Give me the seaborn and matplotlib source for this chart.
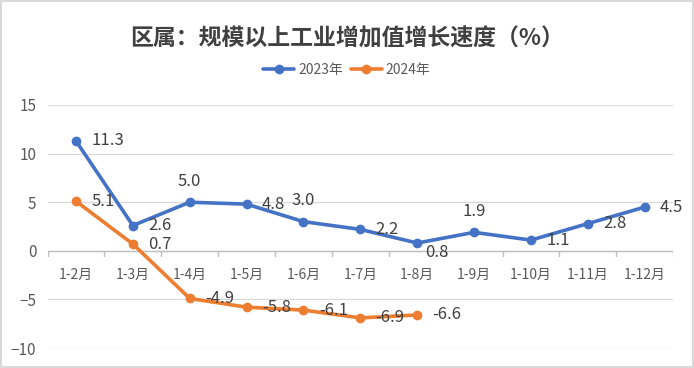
# line chart: 区属规模以上工业增加值增长速度
import pandas as pd
import seaborn as sns
import matplotlib.pyplot as plt

months = ["1-2月", "1-3月", "1-4月", "1-5月", "1-6月", "1-7月", "1-8月",
          "1-9月", "1-10月", "1-11月", "1-12月"]
y2023 = [11.3, 2.6, 5.0, 4.8, 3.0, 2.2, 0.8, 1.9, 1.1, 2.8, 4.5]
y2024 = [5.1, 0.7, -4.9, -5.8, -6.1, -6.9, -6.6]
series_names = ["2023年", "2024年"]

# where each data label sits relative to its point
pos2023 = ["r", "r", "a", "r", "a", "r", "br", "a", "r", "r", "r"]
pos2024 = ["r", "r", "r", "r", "r", "r", "r"]

rows = []
for i, v in enumerate(y2023):
    rows.append({"x": i, "val": v, "year": series_names[0]})
for i, v in enumerate(y2024):
    rows.append({"x": i, "val": v, "year": series_names[1]})
df = pd.DataFrame(rows)

sns.set_theme(style="white")
plt.rcParams["font.family"] = ["Noto Sans CJK SC", "DejaVu Sans"]

fig = plt.figure(figsize=(6.94, 3.68), dpi=100, edgecolor="#d9d9d9", linewidth=1.5)
ax = fig.add_axes([0.0685, 0.0543, 0.9015, 0.6604])

colors = {"2023年": "#4472C4", "2024年": "#ED7D31"}
sns.lineplot(data=df, x="x", y="val", hue="year", palette=colors, marker="o",
             markersize=7, markeredgewidth=0, linewidth=2.6, ax=ax, legend=False)

ax.set_xlim(-0.5, len(months) - 0.5)
ax.set_ylim(-10, 15)
ax.set_yticks([-10, -5, 0, 5, 10, 15])
ax.yaxis.grid(True, color="#d9d9d9", linewidth=0.9)
ax.set_axisbelow(True)
for s in ax.spines.values():
    s.set_visible(False)
ax.tick_params(axis="y", length=0, pad=8, labelsize=11, labelcolor="#595959")
ax.set_xticks([])
ax.set_xlabel("")
ax.set_ylabel("")

# zero line with category ticks and month labels
ax.axhline(0, color="#bfbfbf", linewidth=1, zorder=1)
for i in range(len(months) + 1):
    ax.plot([i - 0.5, i - 0.5], [0, -0.5], color="#bfbfbf", linewidth=1, zorder=1)
for i, m in enumerate(months):
    ax.annotate(m, (i, 0), xytext=(0, -12), textcoords="offset points",
                ha="center", va="top", fontsize=10, color="#595959")

offsets = {"r": (11, 0, "left", "center"), "a": (0, 9, "center", "bottom"),
           "br": (6, -1, "left", "top")}
for vals, pos in [(y2023, pos2023), (y2024, pos2024)]:
    for i, v in enumerate(vals):
        dx, dy, ha, va = offsets[pos[i]]
        ax.annotate(f"{v:.1f}", (i, v), xytext=(dx, dy), textcoords="offset points",
                    ha=ha, va=va, fontsize=12, color="#404040")

# legend
handles = [plt.Line2D([], [], color=colors[n], marker="o", markersize=7,
                      markeredgewidth=0, linewidth=2.6) for n in series_names]
fig.legend(handles, series_names, loc="center", bbox_to_anchor=(0.5, 0.81),
           ncol=2, frameon=False, fontsize=10, labelcolor="#595959",
           handlelength=2.2, handletextpad=0.3, columnspacing=0.6)

fig.suptitle("区属：规模以上工业增加值增长速度（%）", y=0.925, fontsize=16.5,
             fontweight="bold", color="#404040")

fig.savefig("out.png", dpi=100)
